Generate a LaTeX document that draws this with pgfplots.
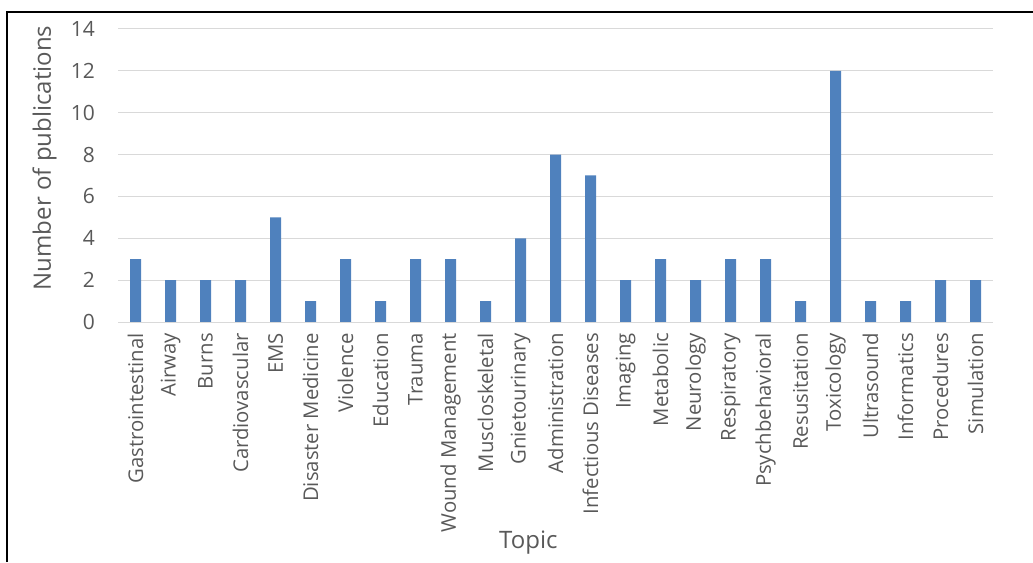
\documentclass[border=0pt]{standalone}
\usepackage{pgfplots}
\pgfplotsset{compat=1.18}
\usepackage{fontspec}
\setmainfont{Open Sans}
\definecolor{barblue}{RGB}{79,129,189}
\definecolor{txtgray}{RGB}{89,89,89}
\definecolor{gridgray}{RGB}{217,217,217}
\begin{document}
\begin{tikzpicture}[x=1pt,y=1pt]
\useasboundingbox (0,0) rectangle (1033,562);
\draw[black, line width=1.2pt] (7,0) -- (7,550) -- (1033,550);
\begin{axis}[
  at={(118pt,240pt)}, anchor=south west,
  scale only axis, width=875pt, height=293pt,
  xmin=-0.5, xmax=24.5, ymin=0, ymax=14,
  ytick={0,2,4,6,8,10,12,14},
  xtick={0,...,24},
  xticklabels={Gastrointestinal,Airway,Burns,Cardiovascular,EMS,Disaster Medicine,Violence,Education,Trauma,Wound Management,Muscloskeletal,Gnietourinary,Administration,Infectious Diseases,Imaging,Metabolic,Neurology,Respiratory,Psychbehavioral,Resusitation,Toxicology,Ultrasound,Informatics,Procedures,Simulation},
  x tick label style={rotate=90, anchor=east, font=\fontsize{20.3}{23}\selectfont, text=txtgray, inner sep=0pt},
  xticklabel shift=11pt,
  y tick label style={font=\fontsize{21}{24}\selectfont, text=txtgray, inner sep=0pt},
  yticklabel shift=23pt,
  /pgf/number format/assume math mode=true,
  major tick length=0pt,
  ymajorgrids, grid style={gridgray, line width=1pt},
  axis line style={draw=none},
  ylabel={Number of publications},
  ylabel style={at={(axis description cs:-0.084,0.56)}, anchor=center, font=\fontsize{24}{28}\selectfont, text=txtgray},
  xlabel={Topic},
  xlabel style={at={(axis description cs:0.469,-0.754)}, anchor=center, font=\fontsize{24}{28}\selectfont, text=txtgray},
  ybar, bar width=11pt,
  clip=false,
]
\addplot[fill=barblue, draw=none] coordinates {
(0,3) (1,2) (2,2) (3,2) (4,5) (5,1) (6,3) (7,1) (8,3) (9,3) (10,1) (11,4) (12,8) (13,7) (14,2) (15,3) (16,2) (17,3) (18,3) (19,1) (20,12) (21,1) (22,1) (23,2) (24,2)};
\draw[gridgray, line width=1pt] (rel axis cs:0,0) -- (rel axis cs:1,0);
\end{axis}
\end{tikzpicture}
\end{document}
